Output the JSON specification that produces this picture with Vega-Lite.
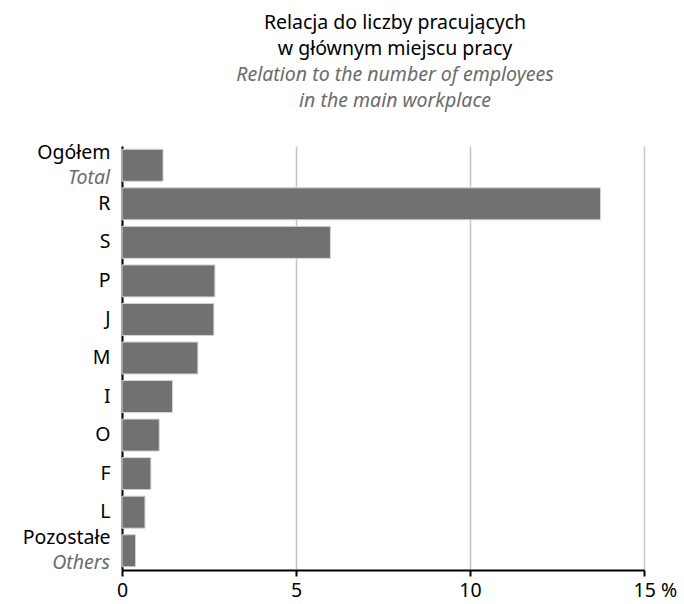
{
  "$schema": "https://vega.github.io/schema/vega-lite/v6.json",
  "autosize": {"type": "none"},
  "padding": {"left": 122, "top": 146, "right": 40, "bottom": 34},
  "width": 522,
  "height": 424,
  "config": {
    "font": "Noto Sans",
    "view": {"stroke": null}
  },
  "title": {
    "text": ["Relacja do liczby pracujących", "w głównym miejscu pracy"],
    "subtitle": ["Relation to the number of employees", "in the main workplace"],
    "fontSize": 19.5,
    "fontWeight": "normal",
    "color": "#000000",
    "lineHeight": 26,
    "subtitleFontSize": 19.5,
    "subtitleFontStyle": "italic",
    "subtitleColor": "#6b6b6b",
    "subtitleLineHeight": 26,
    "subtitlePadding": 6,
    "anchor": "middle",
    "frame": "group",
    "dx": 12,
    "offset": 31
  },
  "data": {
    "values": [
      {"cat": "Ogółem", "en": "Total", "value": 1.18},
      {"cat": "R", "en": "", "value": 13.75},
      {"cat": "S", "en": "", "value": 5.99},
      {"cat": "P", "en": "", "value": 2.67},
      {"cat": "J", "en": "", "value": 2.64},
      {"cat": "M", "en": "", "value": 2.18},
      {"cat": "I", "en": "", "value": 1.45},
      {"cat": "O", "en": "", "value": 1.07},
      {"cat": "F", "en": "", "value": 0.83},
      {"cat": "L", "en": "", "value": 0.66},
      {"cat": "Pozostałe", "en": "Others", "value": 0.39}
    ]
  },
  "encoding": {
    "y": {
      "field": "cat",
      "type": "nominal",
      "sort": null,
      "scale": {"paddingInner": 0.17, "paddingOuter": 0.085},
      "axis": {
        "title": null,
        "ticks": false,
        "domainColor": "#000000",
        "domainWidth": 2,
        "labelFontSize": 19.5,
        "labelColor": "#000000",
        "labelPadding": 12,
        "labelOffset": {"condition": {"test": "datum.value == 'Ogółem' || datum.value == 'Pozostałe'", "value": -12.5}, "value": 0}
      }
    }
  },
  "layer": [
    {
      "mark": {"type": "bar", "color": "#717171", "stroke": "#d4d4d4", "strokeWidth": 1},
      "encoding": {
        "x": {
          "field": "value",
          "type": "quantitative",
          "scale": {"domain": [0, 15], "nice": false},
          "axis": {
            "title": null,
            "values": [0, 5, 10, 15],
            "domainColor": "#000000",
            "domainWidth": 2,
            "tickColor": "#000000",
            "tickWidth": 2,
            "tickSize": 6,
            "gridColor": "#c4c4c4",
            "gridWidth": 1.5,
            "labelFontSize": 19.5,
            "labelColor": "#000000",
            "labelPadding": 5,
            "labelExpr": "datum.value == 15 ? '15 %' : datum.label",
            "labelAlign": {"condition": {"test": "datum.value == 15", "value": "left"}, "value": "center"},
            "labelOffset": {"condition": {"test": "datum.value == 15", "value": -11}, "value": 0}
          }
        }
      }
    },
    {
      "mark": {"type": "text", "align": "right", "baseline": "middle", "dx": -12, "dy": 12.5, "fontSize": 19.5, "fontStyle": "italic", "color": "#6b6b6b"},
      "encoding": {
        "x": {"datum": 0, "type": "quantitative"},
        "text": {"field": "en"}
      }
    }
  ]
}
